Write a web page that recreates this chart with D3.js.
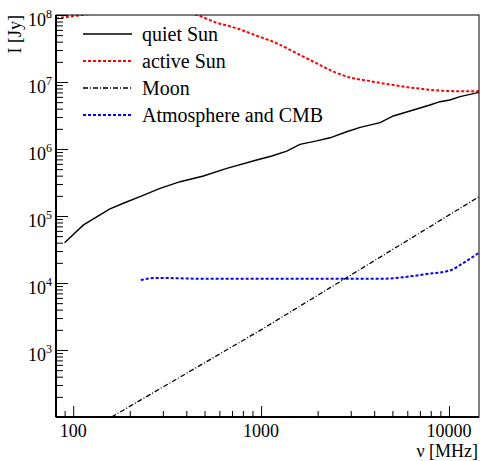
<!DOCTYPE html>
<html>
<head>
<meta charset="utf-8">
<script src="https://cdn.jsdelivr.net/npm/d3@7"></script>
<style>
	body { margin: 0; background: #fff; }
	text { font-family: "Liberation Serif", "Times New Roman", serif; fill: #000; }
</style>
</head>
<body>
<svg id="chart" width="480" height="461"></svg>
<script>

// values (frequency in MHz, flux in Jy)
var quietFreq = [90, 113, 156, 185, 232, 290, 371, 493, 657, 948, 1140, 1370, 1611, 1976, 2328, 2856, 3365, 4298, 5058, 6460, 7920, 8950, 10100, 11450, 14450];
var quietFlux = [4.0e4, 7.3e4, 1.27e5, 1.55e5, 2.0e5, 2.59e5, 3.25e5, 3.95e5, 5.15e5, 6.86e5, 7.87e5, 9.3e5, 1.17e6, 1.32e6, 1.47e6, 1.81e6, 2.1e6, 2.47e6, 3.11e6, 3.82e6, 4.54e6, 5.08e6, 5.39e6, 6.04e6, 7.0e6];

var activeFreq = [81, 111, 160, 250, 350, 455, 581, 742, 948, 1212, 1548, 1976, 2425, 2973, 3800, 5058, 6735, 9330, 12400, 14450];
var activeFlux = [8.9e7, 1.0e8, 1.15e8, 1.25e8, 1.18e8, 1.0e8, 7.67e7, 6.33e7, 4.91e7, 3.78e7, 2.68e7, 1.9e7, 1.43e7, 1.17e7, 1.03e7, 9.0e6, 8.05e6, 7.4e6, 7.26e6, 7.26e6];

var moonFreq = [160, 1000, 3000, 14450];
var moonFlux = [100, 2.0e3, 1.31e4, 1.94e5];

var atmFreq = [229, 279, 474, 1000, 2000, 4460, 5690, 7600, 10100, 11860, 14450];
var atmFlux = [1.11e4, 1.19e4, 1.16e4, 1.16e4, 1.16e4, 1.16e4, 1.22e4, 1.36e4, 1.53e4, 1.97e4, 2.83e4];

var seriesNames = ["quiet Sun", "active Sun", "Moon", "Atmosphere and CMB"];

var xMajor = [100, 1000, 10000];
var xMinor = [90, 200, 300, 400, 500, 600, 700, 800, 900, 2000, 3000, 4000, 5000, 6000, 7000, 8000, 9000];
var yExponents = [3, 4, 5, 6, 7, 8];

var frame = { left: 56, right: 479, top: 15, bottom: 417 };

var svg = d3.select("#chart");

var x = d3.scaleLog()
    .domain([81, 14450])
    .range([frame.left, frame.right]);
var y = d3.scaleLog()
    .domain([100, 1e8])
    .range([frame.bottom, frame.top]);

var yMajor = [100].concat(yExponents.map(function (e) { return Math.pow(10, e); }));
var yMinor = [];
for (var k = 2; k < 8; k++) {
	for (var m = 2; m <= 9; m++) {
		yMinor.push(m * Math.pow(10, k));
	}
}

svg.append("clipPath").attr("id", "clip")
  .append("rect")
    .attr("x", frame.left)
    .attr("y", frame.top)
    .attr("width", frame.right - frame.left)
    .attr("height", frame.bottom - frame.top);

// series styles
var styles = [
	{ color: "#000", width: 1.4, dash: null, curve: d3.curveLinear },
	{ color: "#ff0000", width: 2, dash: "3,2", curve: d3.curveMonotoneX },
	{ color: "#000", width: 1.3, dash: "5,2,1,2", curve: d3.curveLinear },
	{ color: "#0000ff", width: 2, dash: "3,2", curve: d3.curveMonotoneX }
];

var series = [
	d3.zip(quietFreq, quietFlux),
	d3.zip(activeFreq, activeFlux),
	d3.zip(moonFreq, moonFlux),
	d3.zip(atmFreq, atmFlux)
];

var plot = svg.append("g").attr("clip-path", "url(#clip)");

series.forEach(function (pts, i) {
	var line = d3.line()
	    .x(function (d) { return x(d[0]); })
	    .y(function (d) { return y(d[1]); })
	    .curve(styles[i].curve);
	plot.append("path")
	    .datum(pts)
	    .attr("d", line)
	    .style("fill", "none")
	    .style("stroke", styles[i].color)
	    .style("stroke-width", styles[i].width)
	    .style("stroke-dasharray", styles[i].dash);
});

// frame
svg.append("rect")
    .attr("x", frame.left)
    .attr("y", frame.top)
    .attr("width", frame.right - frame.left)
    .attr("height", frame.bottom - frame.top)
    .style("fill", "none")
    .style("stroke", "#000")
    .style("stroke-width", 1);

// axes (ticks pointing inward)
var drawAxis = function (axis, transform) {
	var g = svg.append("g").attr("transform", transform).call(axis);
	g.selectAll("line").style("stroke", "#000").style("stroke-width", 1);
	g.select(".domain").remove();
	return g;
};

drawAxis(d3.axisBottom(x).tickValues(xMajor).tickSize(-11).tickFormat(""), "translate(0," + frame.bottom + ")");
drawAxis(d3.axisBottom(x).tickValues(xMinor).tickSize(-6).tickFormat(""), "translate(0," + frame.bottom + ")");
drawAxis(d3.axisLeft(y).tickValues(yMajor).tickSize(-12).tickFormat(""), "translate(" + frame.left + ",0)");
drawAxis(d3.axisLeft(y).tickValues(yMinor).tickSize(-7).tickFormat(""), "translate(" + frame.left + ",0)");

svg.append("line")
    .attr("x1", frame.left).attr("x2", frame.right)
    .attr("y1", frame.bottom).attr("y2", frame.bottom)
    .style("stroke", "#000").style("stroke-width", 2);
svg.append("line")
    .attr("x1", frame.left).attr("x2", frame.left)
    .attr("y1", frame.top).attr("y2", frame.bottom)
    .style("stroke", "#000").style("stroke-width", 2);

// tick labels
svg.selectAll("text.xlabel")
    .data(xMajor)
  .enter()
  .append("text").classed("xlabel", true)
    .attr("x", function (d) { return x(d); })
    .attr("y", 437)
    .attr("text-anchor", "middle")
    .style("font-size", "18px")
    .text(function (d) { return d; });

var ylab = svg.selectAll("text.ylabel")
    .data(yExponents)
  .enter()
  .append("text").classed("ylabel", true)
    .attr("x", 52)
    .attr("y", function (d) { return y(Math.pow(10, d)) + 11; })
    .attr("text-anchor", "end")
    .style("font-size", "18px");
ylab.append("tspan").text("10");
ylab.append("tspan")
    .attr("dy", -8)
    .style("font-size", "12px")
    .text(function (d) { return d; });

// axis titles
svg.append("text")
    .attr("x", 478)
    .attr("y", 457)
    .attr("text-anchor", "end")
    .style("font-size", "18px")
    .text("\u03bd [MHz]");
svg.append("text")
    .attr("transform", "translate(21," + frame.top + ") rotate(-90)")
    .attr("text-anchor", "end")
    .style("font-size", "18px")
    .text("I [Jy]");

// legend
var legend = svg.selectAll("g.legend")
    .data(seriesNames)
  .enter()
  .append("g").classed("legend", true)
    .attr("transform", function (d, i) { return "translate(0, " + (34 + i * 27) + ")"; });
legend.append("line")
    .attr("x1", 83).attr("x2", 132)
    .attr("y1", 0).attr("y2", 0)
    .style("stroke", function (d, i) { return styles[i].color; })
    .style("stroke-width", function (d, i) { return styles[i].width; })
    .style("stroke-dasharray", function (d, i) { return styles[i].dash; });
legend.append("text")
    .attr("x", 142)
    .attr("y", 6.5)
    .style("font-size", "20px")
    .text(function (d) { return d; });

</script>
</body>
</html>
